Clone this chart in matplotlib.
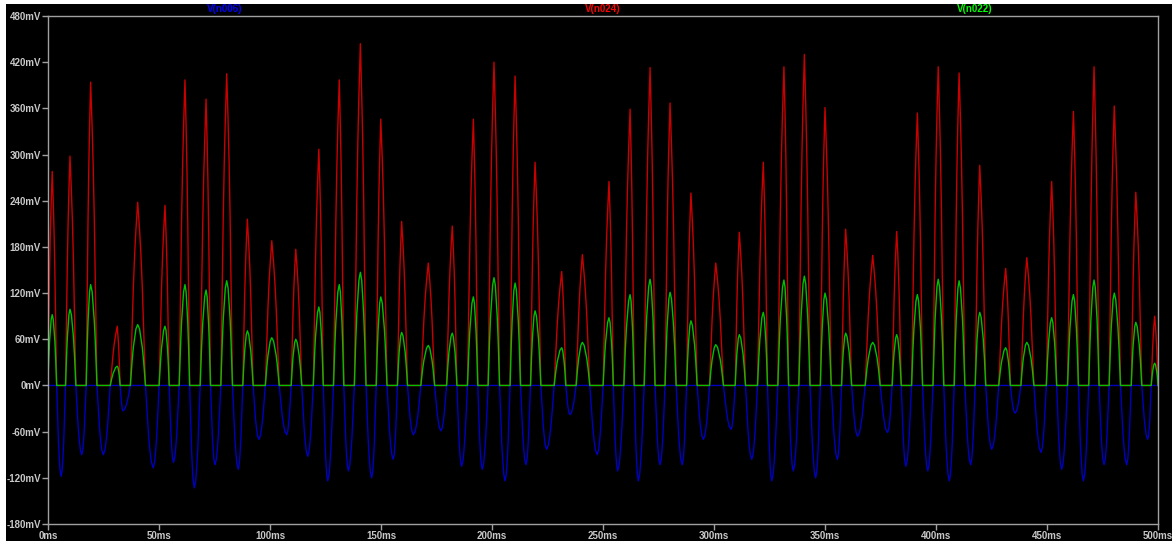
import numpy as np
import matplotlib
matplotlib.use('Agg')
import matplotlib.pyplot as plt
from matplotlib.patches import Rectangle

# positive half cycles: time of peak (ms), V(n024) peak, V(n022) peak (mV)
peak_t = [1.9, 9.9, 19.2, 31.2, 40.4, 52.7, 61.7, 71.2, 80.5, 89.8,
          100.8, 111.6, 122.0, 131.2, 140.7, 149.9, 159.3, 171.3, 182.1, 191.6,
          200.9, 210.4, 219.4, 231.4, 240.7, 252.7, 262.2, 271.2, 280.2, 289.6,
          300.8, 311.4, 322.2, 331.5, 340.7, 350.0, 359.3, 371.5, 382.3, 391.6,
          401.0, 410.4, 419.7, 431.4, 440.9, 452.1, 461.9, 471.2, 480.3, 490.0,
          498.5]
red_pk = [278, 298, 394, 77, 238, 234, 397, 372, 405, 216,
          188, 177, 307, 397, 444, 346, 213, 159, 207, 346,
          420, 402, 290, 148, 170, 265, 359, 413, 367, 250,
          159, 199, 290, 414, 430, 361, 203, 169, 200, 354,
          414, 406, 286, 152, 166, 265, 356, 414, 363, 251,
          90]
green_pk = [92, 99, 131, 25, 79, 77, 131, 124, 136, 71,
            62, 60, 102, 131, 147, 115, 69, 52, 68, 115,
            140, 133, 97, 49, 56, 88, 118, 138, 121, 84,
            53, 66, 95, 137, 142, 120, 68, 56, 66, 118,
            138, 136, 95, 49, 56, 88, 118, 137, 120, 82,
            29]

# negative half cycles: time of trough (ms), V(n006) trough (mV)
trough_t = [5.9, 15.2, 24.9, 33.8, 47.4, 56.5, 65.9, 75.2, 85.7, 95.0,
            107.5, 117.0, 126.0, 135.3, 145.8, 155.5, 164.6, 177.0, 186.3, 195.6,
            205.9, 215.3, 224.6, 235.1, 247.4, 256.6, 265.9, 275.7, 285.7, 295.2,
            307.7, 317.0, 326.0, 335.7, 345.8, 355.6, 364.7, 378.2, 386.4, 396.3,
            406.0, 415.6, 425.1, 435.6, 447.3, 456.6, 466.4, 475.7, 485.9, 495.4]
blue_tr = [-118, -90, -90, -33, -107, -100, -133, -103, -109, -70,
           -64, -92, -124, -111, -120, -96, -64, -59, -105, -109,
           -124, -103, -83, -38, -90, -111, -124, -103, -103, -70,
           -57, -96, -124, -111, -120, -96, -66, -61, -105, -111,
           -124, -103, -83, -36, -87, -109, -124, -103, -103, -70]

# lobe outline read off one typical pulse: fraction of the way from zero
# crossing to the peak, and fraction of peak height reached there
lobe_pos = [0.0, 0.23, 0.41, 0.59, 0.76, 1.0]
red_shape = [0.0, 0.30, 0.54, 0.72, 0.85, 1.0]
green_shape = [0.0, 0.39, 0.63, 0.79, 0.93, 1.0]
blue_shape = [0.0, 0.36, 0.62, 0.80, 0.93, 1.0]

yticks = [-180, -120, -60, 0, 60, 120, 180, 240, 300, 360, 420, 480]
xticks = [0, 50, 100, 150, 200, 250, 300, 350, 400, 450, 500]


def lobe(c0, t, c1, height, shape):
    xs = [c0 + p * (t - c0) for p in lobe_pos]
    ys = [s * height for s in shape]
    xs += [t + (1 - p) * (c1 - t) for p in lobe_pos[-2::-1]]
    ys += [s * height for s in shape[-2::-1]]
    return xs, ys


def build_traces():
    # merge extrema in time order, lobes meet zero half way between them
    ext = sorted([(t, 'p', i) for i, t in enumerate(peak_t)] +
                 [(t, 'n', i) for i, t in enumerate(trough_t)])
    times = [e[0] for e in ext]
    cross = [times[0] - (times[1] - times[0]) / 2]
    for a, b in zip(times[:-1], times[1:]):
        cross.append((a + b) / 2)
    cross.append(times[-1] + (times[-1] - times[-2]) / 2)

    tr, vr, tg, vg, tb, vb = [], [], [], [], [], []
    for k, (t, kind, i) in enumerate(ext):
        c0, c1 = cross[k], cross[k + 1]
        if kind == 'p':
            x, y = lobe(c0, t, c1, red_pk[i], red_shape)
            tr += x; vr += y
            x, y = lobe(c0, t, c1, green_pk[i], green_shape)
            tg += x; vg += y
            tb += [c0, c1]; vb += [0, 0]
        else:
            x, y = lobe(c0, t, c1, blue_tr[i], blue_shape)
            tb += x; vb += y
            tr += [c0, c1]; vr += [0, 0]
            tg += [c0, c1]; vg += [0, 0]
    return tr, vr, tg, vg, tb, vb


tr, vr, tg, vg, tb, vb = build_traces()

fig = plt.figure(figsize=(11.72, 5.41), dpi=100, facecolor='white')
fig.add_artist(Rectangle((6 / 1172, 0), 1, 537 / 541, transform=fig.transFigure,
                         facecolor='black', edgecolor='none', zorder=-10))

ax = fig.add_axes([48 / 1172, 17 / 541, 1110 / 1172, 508 / 541])
ax.set_facecolor('black')

ax.plot(tb, vb, color='#0000c0', lw=1.0)
ax.plot(tr, vr, color='#c80000', lw=1.0)
ax.plot(tg, vg, color='#00c000', lw=1.0)

ax.set_xlim(0, 500)
ax.set_ylim(-180, 480)
ax.set_yticks(yticks)
ax.set_yticklabels([f'{v}mV' for v in yticks])
ax.set_xticks(xticks)
ax.set_xticklabels([f'{v}ms' for v in xticks])
ax.tick_params(colors='#a0a0a0', labelcolor='#c8c8c8', length=4, width=1,
               labelsize=7, pad=1)
for lab in ax.get_xticklabels() + ax.get_yticklabels():
    lab.set_fontweight('bold')
    lab.set_family('Liberation Sans')
for sp in ax.spines.values():
    sp.set_color('#a0a0a0')
    sp.set_linewidth(1)

# trace names along the top like the LTspice header
for name, xpos, col in [('V(n006)', 225, '#0000ff'), ('V(n024)', 603, '#ff0000'),
                        ('V(n022)', 975, '#00ff00')]:
    fig.text(xpos / 1172, 1 - 9.5 / 541, name, color=col, ha='center', va='center',
             fontsize=7, fontweight='bold', family='Liberation Sans')

fig.savefig('out.png', dpi=100, facecolor=fig.get_facecolor())
